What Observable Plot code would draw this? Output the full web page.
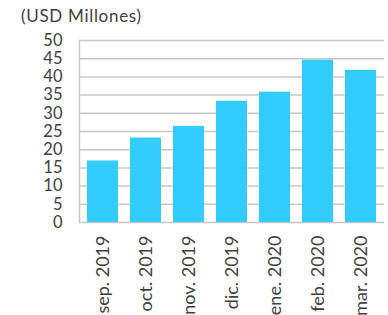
<!DOCTYPE html>
<html>
<head>
<meta charset="utf-8">
<script src="https://cdn.jsdelivr.net/npm/d3@7"></script>
<script src="https://cdn.jsdelivr.net/npm/@observablehq/plot@0.6"></script>
<style>
  html, body { margin: 0; padding: 0; background: #fff; }
  #wrap { width: 388px; height: 315px; overflow: hidden; position: relative; }
  .ttl { display: block; box-sizing: border-box; width: 388px; height: 26px; margin: 0; padding: 6px 0 0 21px; font-family: Lato, sans-serif; font-size: 17px; letter-spacing: 0.7px; line-height: 20px; color: #404040; white-space: nowrap; text-align: left; }
  svg { display: block; }
</style>
</head>
<body>
<div id="wrap"><div class="ttl">(USD Millones)</div></div>
<script>
const months = ["sep. 2019", "oct. 2019", "nov. 2019", "dic. 2019", "ene. 2020", "feb. 2020", "mar. 2020"];
const values = [16.9, 23.2, 26.4, 33.3, 35.8, 44.6, 41.8];
const yTicks = [0, 5, 10, 15, 20, 25, 30, 35, 40, 45, 50];

const data = months.map((m, i) => ({month: m, value: values[i]}));

const chart = Plot.plot({
  width: 388,
  height: 289,
  marginLeft: 79,
  marginRight: 4,
  marginTop: 14,
  marginBottom: 93,
  style: {fontFamily: "Lato, sans-serif", color: "#404040", background: "transparent"},
  x: {domain: months, paddingInner: 0.29, paddingOuter: 0.15, label: null},
  y: {domain: [0, 50], label: null},
  marks: [
    Plot.gridY(yTicks, {stroke: "#c8c8c8", strokeOpacity: 1, strokeWidth: 1.5}),
    Plot.frame({anchor: "left", stroke: "#c8c8c8", strokeWidth: 1.5}),
    Plot.barY(data, {x: "month", y: "value", fill: "#33ccff"}),
    Plot.axisY(yTicks, {tickSize: 0, tickPadding: 17, fontSize: 16.5, fill: "#404040", label: null}),
    Plot.axisX({tickSize: 0, tickRotate: -90, tickPadding: 13, fontSize: 18, fill: "#404040", label: null})
  ]
});
document.getElementById("wrap").appendChild(chart);
</script>
</body>
</html>
